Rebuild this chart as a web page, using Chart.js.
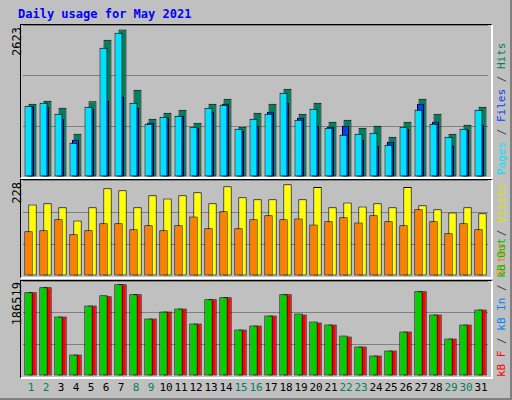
<!DOCTYPE html>
<html><head><meta charset="utf-8">
<script src="https://cdn.jsdelivr.net/npm/chart.js@4"></script>
<style>
body{margin:0;background:#fff}
#w{position:absolute;left:0;top:0;width:510px;height:398px;background:#c0c0c0;border-right:2px solid #808080;border-bottom:2px solid #808080;font-family:"DejaVu Sans Mono",monospace}
.pn{position:absolute;left:20px;width:470px;border-top:1px solid #000;border-left:1px solid #000;border-right:2px solid #fff;border-bottom:2px solid #fff}
canvas{position:absolute}
.lab{position:absolute;font-size:11px;writing-mode:vertical-rl;transform:rotate(180deg);white-space:nowrap}
.d{position:absolute;top:381px;width:15px;text-align:center;font-size:11px}
</style></head><body>
<div id="w">
<div style="position:absolute;left:18px;top:7px;color:#0000ff;font-weight:bold;font-size:12px">Daily usage for May 2021</div>
<div class="pn" style="top:24px;height:152px"></div>
<div class="pn" style="top:179px;height:97px"></div>
<div class="pn" style="top:280px;height:96px"></div>
<div class="lab" style="left:10px;top:27px;color:#000;font-size:12px">2623</div>
<div class="lab" style="left:10px;top:182px;color:#000;font-size:12px">228</div>
<div class="lab" style="left:10px;top:282px;color:#000;font-size:12px">186519</div>
<div class="lab" style="left:495px;top:27px;height:148px;text-align:left"><span style="color:#00e0ff">Pages</span><span style="color:#404040"> / </span><span style="color:#0040ff">Files</span><span style="color:#404040"> / </span><span style="color:#00805c">Hits</span></div>
<div class="lab" style="left:495px;top:180px;height:96px;text-align:left"><span style="color:#ff8000">Sites</span><span style="color:#404040"> / </span><span style="color:#e0e000">Visits</span></div>
<div class="lab" style="left:495px;top:281px;height:96px;text-align:left"><span style="color:#ff0000">kB F</span><span style="color:#404040"> / </span><span style="color:#0080ff">kB In</span><span style="color:#404040"> / </span><span style="color:#00c000">kB Out</span></div>
<div id="days"></div>
<canvas id="c1" style="left:21px;top:25px;width:469px;height:152px"></canvas>
<canvas id="c2" style="left:21px;top:180px;width:469px;height:96px"></canvas>
<canvas id="c3" style="left:21px;top:281px;width:469px;height:95px"></canvas>
</div>
<script>
const days=["1","2","3","4","5","6","7","8","9","10","11","12","13","14","15","16","17","18","19","20","21","22","23","24","25","26","27","28","29","30","31"];
const weekend=[1,2,8,9,15,16,22,23,29,30];
const hits=[1305,1359,1234,771,1347,2444,2623,1554,1038,1145,1198,967,1305,1394,896,1145,1305,1572,1127,1323,985,1020,878,913,718,985,1394,1127,771,931,1252];
const files=[1258,1252,1027,664,1216,1359,1430,1234,967,1056,1092,878,1163,1305,825,913,1163,1323,1056,913,896,913,664,558,629,860,1305,985,558,843,931];
const pages=[1270,1323,1127,611,1252,2302,2569,1323,949,1074,1092,896,1234,1287,860,1038,1127,1501,1020,1216,878,753,771,789,575,896,1198,949,718,860,1198];
const visits=[178,181,171,138,171,218,213,171,201,193,201,208,181,223,196,191,191,228,191,221,171,183,173,181,171,221,176,166,158,171,156];
const sites=[111,114,141,104,114,131,131,116,126,114,126,148,119,161,119,141,151,141,143,128,136,146,133,151,136,126,166,136,106,131,116];
const kbF=[170175,180386,121165,43565,143628,162000,186519,166091,117080,131375,137501,106870,155880,159965,94617,102786,123207,166091,125249,108900,104828,80300,59902,41523,51733,90533,172217,125249,76238,104828,135459];
const kbOut=[170175,180386,121165,43565,143628,164049,186519,166091,117080,131375,137501,106870,155880,159965,94617,102786,123207,166091,127291,110954,104828,82365,59902,41523,51733,90533,172217,125249,76238,104828,135459];

const dd=document.getElementById('days');
days.forEach((d,i)=>{const e=document.createElement('div');e.className='d';e.style.left=(23.5+i*15)+'px';e.style.color=weekend.includes(+d)?'#008060':'#000';e.textContent=d;dd.appendChild(e);});

function mk(id,sets,max,cat,bar){
 const n=sets.length;
 new Chart(document.getElementById(id),{type:'bar',
  data:{labels:days,datasets:sets.map((s,i)=>({data:s[0],backgroundColor:s[1],borderColor:'#000',borderWidth:1,borderSkipped:false,categoryPercentage:cat,barPercentage:s[2]||bar,order:n-i}))},
  options:{responsive:false,animation:false,layout:{padding:{left:2,right:2}},plugins:{legend:{display:false},tooltip:{enabled:false}},
   scales:{x:{display:false},y:{min:0,max:max,ticks:{display:false,stepSize:max/3},border:{display:false},grid:{color:'#808080',drawTicks:false}}}}});
}
[['c1',469,152],['c2',469,96],['c3',469,95]].forEach(a=>{const c=document.getElementById(a[0]);c.width=a[1];c.height=a[2];});
mk('c1',[[hits,'#00805c'],[files,'#0040ff',3.5],[pages,'#00e0ff']],2705,0.4,4);
mk('c2',[[visits,'#ffff00'],[sites,'#ff8000']],238.7,0.533,2.1);
mk('c3',[[kbF,'#ff0000'],[kbOut,'#00d000']],193253,0.533,2.1);
</script>
</body></html>
